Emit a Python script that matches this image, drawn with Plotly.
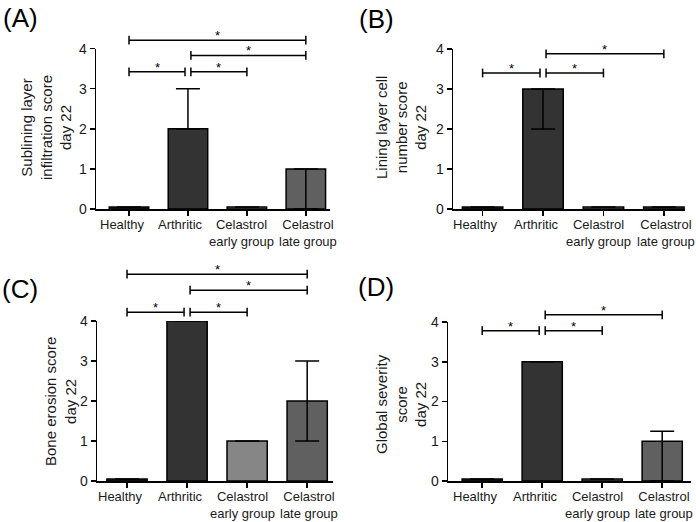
import plotly.graph_objects as go

W, H = 696, 522
FONT = "Liberation Sans, Arial, sans-serif"

categories = ["Healthy", "Arthritic", "Celastrol<br>early group", "Celastrol<br>late group"]
bar_colors = ["#333333", "#333333", "#868686", "#606060"]

# panel values
vals_A = [0.05, 2.0, 0.05, 1.0]
err_plus_A = [0, 1.0, 0, 0]
err_minus_A = [0, 0, 0, 1.0]

vals_B = [0.05, 3.0, 0.05, 0.05]
err_plus_B = [0, 0, 0, 0]
err_minus_B = [0, 1.0, 0, 0]

vals_C = [0.05, 4.0, 1.0, 2.0]
err_plus_C = [0, 0, 0, 1.0]
err_minus_C = [0, 0, 0, 1.0]

vals_D = [0.05, 3.0, 0.05, 1.0]
err_plus_D = [0, 0, 0, 0.25]
err_minus_D = [0, 0, 0, 1.0]

# significance comparisons (group index pairs)
comps_A = [(0, 1), (1, 2), (1, 3), (0, 3)]
comps_B = [(0, 1), (1, 2), (1, 3)]
comps_C = [(0, 1), (1, 2), (1, 3), (0, 3)]
comps_D = [(0, 1), (1, 2), (1, 3)]

ytitles = {
    "A": "Sublining layer<br>infiltration score<br>day 22",
    "B": "Lining layer cell<br>number score<br>day 22",
    "C": "Bone erosion score<br>day 22",
    "D": "Global severity<br>score<br>day 22",
}

# horizontal nudge (px) of each category label relative to its tick
label_nudge = [-7, -7, -5, 2]


def px_x(px):
    return px / W


def px_y(py):
    return 1 - py / H


# ---- layout geometry (pixels) ----
panels = [
    dict(key="A", vals=vals_A, ep=err_plus_A, em=err_minus_A, comps=comps_A,
         heights=[3.42, 3.42, 3.83, 4.21], xpx=(96, 330), xr=(-0.56, 3.41),
         y0=209, ppu=40.1, ext=4.6, title_xy=(46, 128), label_xy=(20, 18)),
    dict(key="B", vals=vals_B, ep=err_plus_B, em=err_minus_B, comps=comps_B,
         heights=[3.4, 3.4, 3.88], xpx=(453, 685), xr=(-0.49, 3.35),
         y0=209, ppu=40.0, ext=4.5, title_xy=(401, 128), label_xy=(376, 19)),
    dict(key="C", vals=vals_C, ep=err_plus_C, em=err_minus_C, comps=comps_C,
         heights=[4.22, 4.22, 4.77, 5.17], xpx=(97, 333), xr=(-0.5, 3.43),
         y0=481, ppu=40.0, ext=5.5, title_xy=(60, 402), label_xy=(20, 289)),
    dict(key="D", vals=vals_D, ep=err_plus_D, em=err_minus_D, comps=comps_D,
         heights=[3.78, 3.78, 4.18], xpx=(448, 691), xr=(-0.57, 3.48),
         y0=481, ppu=39.75, ext=4.6, title_xy=(401, 404), label_xy=(376, 287)),
]

fig = go.Figure()
layout = dict(template="none", width=W, height=H, margin=dict(l=0, r=0, t=0, b=0),
              paper_bgcolor="white", plot_bgcolor="rgba(0,0,0,0)", showlegend=False,
              font=dict(family=FONT, color="#1a1a1a", size=13))
annotations = []
xpos = [0, 1, 2, 3]
cap = 0.11
gap = 0.05

for i, p in enumerate(panels):
    n = i + 1
    xa = "x" if n == 1 else f"x{n}"
    ya_main = 2 * i + 1
    ya_br = 2 * i + 2
    ym = "y" if ya_main == 1 else f"y{ya_main}"
    yb = f"y{ya_br}"
    d0 = px_y(p["y0"])
    d_main = d0 + 4 * p["ppu"] / H
    d_ext = d0 + p["ext"] * p["ppu"] / H

    layout["xaxis" if n == 1 else f"xaxis{n}"] = dict(
        domain=[px_x(p["xpx"][0]), px_x(p["xpx"][1])], range=list(p["xr"]),
        anchor=ym, tickvals=xpos, showticklabels=False, showline=True,
        linecolor="black", linewidth=1.5, ticks="outside", ticklen=5,
        tickwidth=1.5, tickcolor="black", showgrid=False, zeroline=False,
        automargin=False, fixedrange=True)
    layout["yaxis" if ya_main == 1 else f"yaxis{ya_main}"] = dict(
        domain=[d0, d_main], range=[0, 4], anchor=xa, tickvals=[0, 1, 2, 3, 4],
        showline=True, linecolor="black", linewidth=1.5, ticks="outside",
        ticklen=5, tickwidth=1.5, tickcolor="black", showgrid=False,
        zeroline=False, automargin=False, fixedrange=True,
        tickfont=dict(size=14, family=FONT, color="#1a1a1a"))
    layout[f"yaxis{ya_br}"] = dict(
        domain=[d0, d_ext], range=[0, p["ext"]], anchor=xa, visible=False,
        showgrid=False, zeroline=False, automargin=False, fixedrange=True)

    fig.add_trace(go.Bar(
        x=xpos, y=p["vals"], xaxis=xa, yaxis=ym, width=0.67,
        marker=dict(color=bar_colors, line=dict(color="black", width=1.5)),
        error_y=dict(type="data", symmetric=False, array=p["ep"],
                     arrayminus=p["em"], color="black", thickness=1.5, width=12),
        cliponaxis=False, hoverinfo="skip"))

    # category labels under the axis
    for xi, (lab, nud) in enumerate(zip(categories, label_nudge)):
        annotations.append(dict(
            x=xi, y=0, xref=xa, yref=ym, text=lab, showarrow=False,
            xanchor="center", yanchor="top", yshift=-6, xshift=nud,
            font=dict(size=13, family=FONT, color="#1a1a1a")))

    for (a, b), h in zip(p["comps"], p["heights"]):
        xa0 = a + (gap if a == 1 else 0)
        xb0 = b - (gap if b == 1 else 0)
        fig.add_trace(go.Scatter(
            x=[xa0, xa0, None, xa0, xb0, None, xb0, xb0],
            y=[h - cap, h + cap, None, h, h, None, h - cap, h + cap],
            xaxis=xa, yaxis=yb, mode="lines",
            line=dict(color="black", width=1.5), hoverinfo="skip"))
        annotations.append(dict(
            x=(xa0 + xb0) / 2, y=h, xref=xa, yref=yb, text="*",
            showarrow=False, yanchor="bottom", yshift=-5,
            font=dict(size=13, family=FONT, color="black")))

    tx, ty = p["title_xy"]
    annotations.append(dict(
        x=px_x(tx), y=px_y(ty), xref="paper", yref="paper", text=ytitles[p["key"]],
        textangle=-90, showarrow=False, xanchor="center", yanchor="middle",
        font=dict(size=15, family=FONT, color="#1a1a1a")))
    lx, ly = p["label_xy"]
    annotations.append(dict(
        x=px_x(lx), y=px_y(ly), xref="paper", yref="paper",
        text=f"({p['key']})", showarrow=False, xanchor="center", yanchor="middle",
        font=dict(size=26, family=FONT, color="black")))

layout["annotations"] = annotations
fig.update_layout(**layout)
fig.write_html("out.html", config={"displayModeBar": False, "staticPlot": True},
               post_script="document.body.style.margin='0px';")
